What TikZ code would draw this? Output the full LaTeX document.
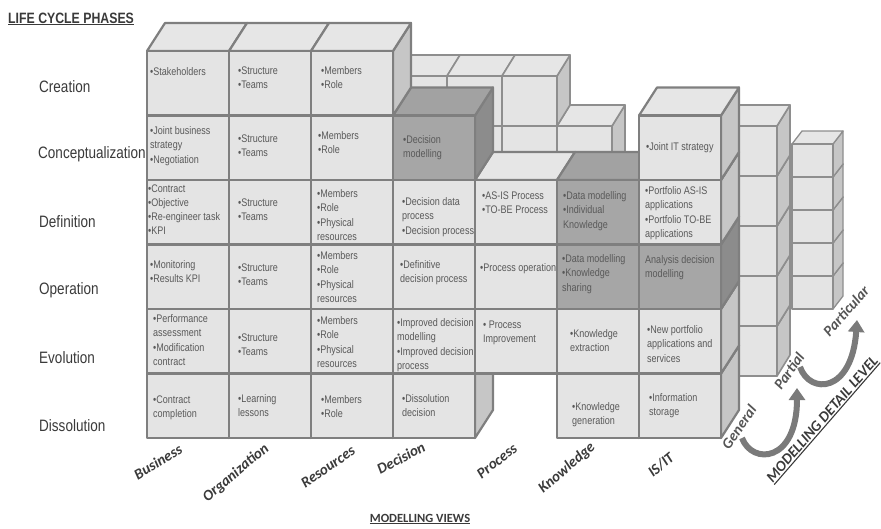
\documentclass[tikz,border=0pt]{standalone}
\usepackage{fontspec}
\usetikzlibrary{arrows.meta}
\newfontfamily\narrowf{Liberation Sans}[FakeStretch=0.82]
\newfontfamily\calibf{Carlito}
\definecolor{Lf}{HTML}{E4E4E4}
\definecolor{Lt}{HTML}{E6E6E6}
\definecolor{Ls}{HTML}{C6C6C6}
\definecolor{Df}{HTML}{A6A6A6}
\definecolor{Dt}{HTML}{A2A2A2}
\definecolor{Ds}{HTML}{8C8C8C}
\definecolor{edgec}{HTML}{7F7F7F}
\definecolor{edgec2}{HTML}{8E8E8E}
\definecolor{txt}{HTML}{595959}
\definecolor{labc}{HTML}{3A3A3A}
\definecolor{lvlc}{HTML}{555555}
\definecolor{arrc}{HTML}{7A7A7A}
\newcommand\cellfont{\narrowf\fontsize{11}{14.2}\selectfont}
\newcommand\myul[1]{\setbox0\hbox{#1}\rlap{\rule[-2.4pt]{\wd0}{1.1pt}}\box0}
% x y w h dx up front top side
\newcommand\mycube[9]{%
  \filldraw[cubeline,fill=#9] ({#1+#3},{#2}) -- ({#1+#3+#5},{#2-#6}) -- ({#1+#3+#5},{#2+#4-#6}) -- ({#1+#3},{#2+#4}) -- cycle;
  \filldraw[cubeline,fill=#8] ({#1},{#2}) -- ({#1+#5},{#2-#6}) -- ({#1+#3+#5},{#2-#6}) -- ({#1+#3},{#2}) -- cycle;
  \filldraw[cubeline,fill=#7] ({#1},{#2}) rectangle ({#1+#3},{#2+#4});
}
\newcommand\fcube[3]{\mycube{147+82*#1}{51+64.5*#2}{82}{64.5}{18}{28}{#3f}{#3t}{#3s}}
\newcommand\mcube[2]{\mycube{#1}{#2}{55}{50}{13}{21}{Lf}{Lt}{Ls}}
\newcommand\bcube[2]{\mycube{#1}{#2}{41}{33}{10}{13}{Lf}{Lt}{Ls}}
\tikzset{
  fl/.style={draw=edgec, line width=2.2pt, line join=round},
  ml/.style={draw=edgec2, line width=1.6pt, line join=round},
  bl/.style={draw=edgec2, line width=1.3pt, line join=round},
  cubeline/.style={fl},
  cell/.style={anchor=north west, inner sep=0pt, align=left, text=txt, font=\cellfont},
  rowlab/.style={anchor=west, inner sep=0pt, text=labc, font=\narrowf\fontsize{16.5}{18}\selectfont},
  axlab/.style={inner sep=0pt, text=labc, font=\calibf\bfseries\itshape\fontsize{15}{17}\selectfont},
  lvl/.style={inner sep=0pt, text=lvlc, font=\calibf\bfseries\itshape\fontsize{15}{17}\selectfont},
  arr/.style={line width=6pt, draw=arrc, -{Triangle[width=16pt,length=12pt]}},
}
\begin{document}
\begin{tikzpicture}[x=1pt,y=-1pt]
\useasboundingbox (0,0) rectangle (881,528);
% back layer
\tikzset{cubeline/.style={bl}}
\foreach \k in {4,3,2,1,0} {\bcube{792}{144+33*\k}}
% middle layer
\tikzset{cubeline/.style={ml}}
\foreach \k in {4,3,2,1,0} {\mcube{722}{126+50*\k}}
\mcube{447}{126}\mcube{502}{126}\mcube{557}{126}
\mcube{392}{76}\mcube{447}{76}\mcube{502}{76}
% front layer
\tikzset{cubeline/.style={fl}}
\fcube{0}{5}{L}\fcube{1}{5}{L}\fcube{2}{5}{L}\fcube{3}{5}{L}\fcube{5}{5}{L}\fcube{6}{5}{L}
\fcube{0}{4}{L}\fcube{1}{4}{L}\fcube{2}{4}{L}\fcube{3}{4}{L}\fcube{4}{4}{L}\fcube{5}{4}{L}\fcube{6}{4}{L}
\fcube{0}{3}{L}\fcube{1}{3}{L}\fcube{2}{3}{L}\fcube{3}{3}{L}\fcube{4}{3}{L}\fcube{5}{3}{D}\fcube{6}{3}{D}
\fcube{0}{2}{L}\fcube{1}{2}{L}\fcube{2}{2}{L}\fcube{3}{2}{L}\fcube{4}{2}{L}\fcube{5}{2}{D}\fcube{6}{2}{L}
\fcube{0}{1}{L}\fcube{1}{1}{L}\fcube{2}{1}{L}\fcube{3}{1}{D}\fcube{6}{1}{L}
\fcube{0}{0}{L}\fcube{1}{0}{L}\fcube{2}{0}{L}
% cell texts
\node[cell] (b0) at (150,67.5) {•Stakeholders};
\node[cell] (b1) at (150,126.5) {•Joint business\\strategy\\•Negotiation};
\node[cell] (b2) at (148,184.5) {•Contract\\•Objective\\•Re-engineer task\\•KPI};
\node[cell] (b3) at (150,260.5) {•Monitoring\\•Results KPI};
\node[cell] (b4) at (153,314.5) {•Performance\\assessment\\•Modification\\contract};
\node[cell] (b5) at (153,395.5) {•Contract\\completion};
\node[cell] (o0) at (238,66.5) {•Structure\\•Teams};
\node[cell] (o1) at (238,134.5) {•Structure\\•Teams};
\node[cell] (o2) at (238,198.5) {•Structure\\•Teams};
\node[cell] (o3) at (238,263.5) {•Structure\\•Teams};
\node[cell] (o4) at (238,333.5) {•Structure\\•Teams};
\node[cell] (o5) at (238,394.5) {•Learning\\lessons};
\node[cell] (r0) at (321,66.5) {•Members\\•Role};
\node[cell] (r1) at (318,131.5) {•Members\\•Role};
\node[cell] (r2) at (317,189.5) {•Members\\•Role\\•Physical\\resources};
\node[cell] (r3) at (317,251.5) {•Members\\•Role\\•Physical\\resources};
\node[cell] (r4) at (317,316.5) {•Members\\•Role\\•Physical\\resources};
\node[cell] (r5) at (321,395.5) {•Members\\•Role};
\node[cell] (d1) at (403,135.5) {•Decision\\modelling};
\node[cell] (d2) at (402,197.5) {•Decision data\\process\\•Decision process};
\node[cell] (d3) at (400,260.5) {•Definitive\\decision process};
\node[cell] (d4) at (397,318.5) {•Improved decision\\modelling\\•Improved decision\\process};
\node[cell] (d5) at (402,394.5) {•Dissolution\\decision};
\node[cell] (p2) at (482,191.5) {•AS-IS Process\\•TO-BE Process};
\node[cell] (p3) at (480,263.5) {•Process operation};
\node[cell] (p4) at (483,320.5) {• Process\\Improvement};
\node[cell] (k2) at (563,191.5) {•Data modelling\\•Individual\\Knowledge};
\node[cell] (k3) at (562,254.5) {•Data modelling\\•Knowledge\\sharing};
\node[cell] (k4) at (570,329.5) {•Knowledge\\extraction};
\node[cell] (k5) at (572,402.5) {•Knowledge\\generation};
\node[cell] (i1) at (646,142.5) {•Joint IT strategy};
\node[cell] (i2) at (645,186.5) {•Portfolio AS-IS\\applications\\•Portfolio TO-BE\\applications};
\node[cell] (i3) at (645,255.5) {Analysis decision\\modelling};
\node[cell] (i4) at (647,325.5) {•New portfolio\\applications and\\services};
\node[cell] (i5) at (649,393.5) {•Information\\storage};
% row labels
\node[rowlab] (lcr) at (39,87) {Creation};
\node[rowlab] (lco) at (38,154) {Conceptualization};
\node[rowlab] (lde) at (39,222) {Definition};
\node[rowlab] (lop) at (39,290) {Operation};
\node[rowlab] (lev) at (39,358) {Evolution};
\node[rowlab] (ldi) at (39,426) {Dissolution};
% titles
\node[anchor=base west, inner sep=0pt, text=labc, font=\narrowf\bfseries\fontsize{15}{17}\selectfont] (lcp) at (8,23) {\myul{LIFE CYCLE PHASES}};
\node[anchor=base, inner sep=0pt, text=labc, font=\calibf\bfseries\fontsize{12.5}{14}\selectfont] (mv) at (420,522) {\myul{MODELLING VIEWS}};
\node[inner sep=0pt, text=labc, font=\calibf\bfseries\itshape\fontsize{15}{17}\selectfont, rotate=49] (mdl) at (823,420) {\myul{MODELLING DETAIL LEVEL}};
% axis labels
\node[axlab, rotate=31] (xb) at (158,462) {Business};
\node[axlab, rotate=40] (xo) at (236,473) {Organization};
\node[axlab, rotate=35] (xr) at (328,467) {Resources};
\node[axlab, rotate=28] (xd) at (401,458) {Decision};
\node[axlab, rotate=38] (xp) at (497,461) {Process};
\node[axlab, rotate=41] (xk) at (567,468) {Knowledge};
\node[axlab, rotate=40] (xi) at (661,465) {IS/IT};
% level labels
\node[lvl, rotate=55] (lg) at (739,427) {General};
\node[lvl, rotate=55] (lpa) at (789,371) {Partial};
\node[lvl, rotate=48] (lpt) at (846,311) {Particular};
% arrows
\coordinate (a1s) at (742,438);
\coordinate (a1e) at (797,388);
\coordinate (a2s) at (800,367);
\coordinate (a2e) at (857,320);
\draw[arr] (a1s) .. controls (752,465) and (797,463) .. (a1e);
\draw[arr] (a2s) .. controls (810,395) and (852,393) .. (a2e);
\end{tikzpicture}
\end{document}
